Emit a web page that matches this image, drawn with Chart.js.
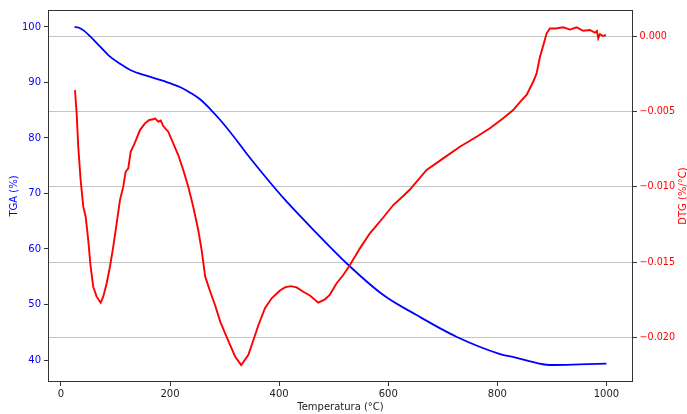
<!DOCTYPE html>
<html>
<head>
<meta charset="utf-8">
<script src="https://cdn.jsdelivr.net/npm/chart.js@4.4.1/dist/chart.umd.min.js"></script>
<style>
  html, body { margin: 0; padding: 0; background: #fff; }
  #wrap { width: 687px; height: 414px; }
</style>
</head>
<body>
<div id="wrap"><canvas id="c" width="687" height="414"></canvas></div>
<script>
// TGA curve (temperature °C, mass %)
const tgaTemp = [25, 32, 42, 54, 72, 90, 109, 127, 158, 188, 219, 237, 255, 274, 292, 317, 341, 372, 411, 469, 527, 591, 652, 725, 805, 830, 855, 875, 890, 905, 950, 1000];
const tgaVal  = [100.0, 99.9, 99.33, 98.25, 96.45, 94.65, 93.33, 92.25, 91.17, 90.27, 89.14, 88.16, 86.97, 85.17, 83.24, 80.23, 77.1, 73.33, 68.83, 62.83, 57.12, 51.71, 48.1, 44.2, 41.08, 40.5, 39.9, 39.4, 39.15, 39.1, 39.2, 39.35];

// DTG curve (temperature °C, %/°C)
const dtgTemp = [25.7, 28.8, 31.7, 36.1, 40.9, 45.3, 50.0, 54.4, 59.2, 65.4, 72.8, 77.5, 83.8, 89.8, 95.9, 102.1, 108.2, 114.2, 118.6, 123.4, 127.8, 133.8, 138.8, 144.8, 154.0, 161.9, 169.2, 172.5, 178.4, 183, 187.5, 196.7, 205.9, 215.0, 224.2, 233.4, 242.5, 251.7, 257.9, 264.5, 273.7, 282.4, 292.0, 307.4, 319.5, 330.5, 343.4, 352.9, 362.1, 374.0, 386.3, 401.5, 410.6, 421, 432.1, 444.2, 456.5, 471.7, 484.0, 493.1, 505.4, 517.5, 529.8, 548.1, 566.4, 590.8, 609.2, 627.5, 639.8, 652.1, 670.4, 700.8, 731.4, 762.0, 786.4, 810.8, 829.1, 841.4, 853.7, 865.8, 872.0, 878.1, 884.5, 890.4, 896.4, 907.4, 920.8, 933.1, 945.4, 957.5, 969.8, 978.9, 982.6, 985.0, 988.1, 993.6, 999.1];
const dtgVal  = [-0.00357, -0.00512, -0.00734, -0.00955, -0.01132, -0.01199, -0.01353, -0.01531, -0.01664, -0.01730, -0.01770, -0.01730, -0.01641, -0.01531, -0.01398, -0.01243, -0.01088, -0.00999, -0.00900, -0.00877, -0.00767, -0.00722, -0.00678, -0.00623, -0.00578, -0.00556, -0.00551, -0.00545, -0.00567, -0.00560, -0.00596, -0.00634, -0.00711, -0.00789, -0.00888, -0.00999, -0.01132, -0.01287, -0.01420, -0.01597, -0.01697, -0.01785, -0.01896, -0.02029, -0.02129, -0.02184, -0.02118, -0.02018, -0.01918, -0.01807, -0.01741, -0.01689, -0.01668, -0.01660, -0.01668, -0.01697, -0.01722, -0.01770, -0.01748, -0.01716, -0.01641, -0.01586, -0.01520, -0.01409, -0.01309, -0.01204, -0.01121, -0.01061, -0.01018, -0.00966, -0.00888, -0.00811, -0.00734, -0.00667, -0.00611, -0.00545, -0.00490, -0.00437, -0.00390, -0.00302, -0.00246, -0.00138, -0.00058, 0.00020, 0.00053, 0.00052, 0.00060, 0.00045, 0.00060, 0.00037, 0.00042, 0.00024, 0.00035, -0.00013, 0.00015, 0.00002, 0.00009];

// Tick labels
const xTicks = [0, 200, 400, 600, 800, 1000];
const tgaTicks = [40, 50, 60, 70, 80, 90, 100];
const dtgTicks = [-0.020, -0.015, -0.010, -0.005, 0.000];

const FONT = 'DejaVu Sans';

const framePlugin = {
  id: 'frame',
  afterDraw(chart) {
    const {ctx, chartArea: a} = chart;
    ctx.save();
    ctx.strokeStyle = '#333';
    ctx.lineWidth = 1;
    ctx.strokeRect(Math.round(a.left) + 0.5, Math.round(a.top) + 0.5,
                   Math.round(a.right - a.left) - 1, Math.round(a.bottom - a.top) - 1);
    // right axis title (rotated bottom-to-top like matplotlib)
    ctx.fillStyle = 'red';
    ctx.font = '10px "' + FONT + '"';
    ctx.textAlign = 'center';
    ctx.textBaseline = 'middle';
    ctx.translate(683.5, (a.top + a.bottom) / 2);
    ctx.rotate(-Math.PI / 2);
    ctx.fillText('DTG (%/°C)', 0, 0);
    ctx.restore();
  }
};

new Chart(document.getElementById('c'), {
  type: 'scatter',
  data: {
    datasets: [
      {
        label: 'DTG',
        data: dtgTemp.map((t, i) => ({x: t, y: dtgVal[i]})),
        yAxisID: 'y2',
        showLine: true,
        borderColor: 'red',
        borderWidth: 1.9,
        pointRadius: 0,
        tension: 0
      },
      {
        label: 'TGA',
        data: tgaTemp.map((t, i) => ({x: t, y: tgaVal[i]})),
        yAxisID: 'y',
        showLine: true,
        borderColor: 'blue',
        borderWidth: 1.8,
        pointRadius: 0,
        cubicInterpolationMode: 'monotone'
      }
    ]
  },
  options: {
    responsive: false,
    animation: false,
    devicePixelRatio: 1,
    layout: { padding: { top: 10, left: 0, right: 0, bottom: 0 } },
    plugins: { legend: { display: false }, tooltip: { enabled: false } },
    scales: {
      x: {
        type: 'linear',
        position: 'bottom',
        min: -23.75,
        max: 1048.75,
        afterBuildTicks: s => { s.ticks = xTicks.map(v => ({value: v})); },
        afterFit: s => { s.height = 32; },
        border: { display: false },
        grid: { drawOnChartArea: false, drawTicks: true, tickLength: 4, tickColor: '#333' },
        ticks: { color: '#222', padding: 2, font: { family: FONT, size: 10 }, maxRotation: 0,
                 callback: v => String(v) },
        title: { display: true, text: 'Temperatura (°C)', color: '#222',
                 font: { family: FONT, size: 10, lineHeight: 1.2 }, padding: { top: 0, bottom: 1 } }
      },
      y: {
        type: 'linear',
        position: 'left',
        min: 36.04,
        max: 103.05,
        afterBuildTicks: s => { s.ticks = tgaTicks.map(v => ({value: v})); },
        afterFit: s => { s.width = 48; },
        border: { display: false },
        grid: { drawOnChartArea: false, drawTicks: true, tickLength: 4, tickColor: '#333' },
        ticks: { color: 'blue', padding: 3, font: { family: FONT, size: 10 },
                 callback: v => String(v) },
        title: { display: true, text: 'TGA (%)', color: 'blue',
                 font: { family: FONT, size: 10, lineHeight: 1.2 }, padding: { top: 8, bottom: 0 } }
      },
      y2: {
        type: 'linear',
        position: 'right',
        min: -0.02297,
        max: 0.00175,
        afterBuildTicks: s => { s.ticks = dtgTicks.map(v => ({value: v})); },
        afterFit: s => { s.width = 54; },
        border: { display: false },
        grid: { drawOnChartArea: true, color: '#c4c4c4', lineWidth: 1, drawTicks: true, tickLength: 4, tickColor: '#333' },
        ticks: { color: 'red', padding: 2.5, font: { family: FONT, size: 9.6 },
                 callback: v => (Math.abs(v) < 1e-9 ? '0.000' : (v < 0 ? '\u2212' : '') + Math.abs(v).toFixed(3)) },
        title: { display: false }
      }
    }
  },
  plugins: [framePlugin]
});
</script>
</body>
</html>
